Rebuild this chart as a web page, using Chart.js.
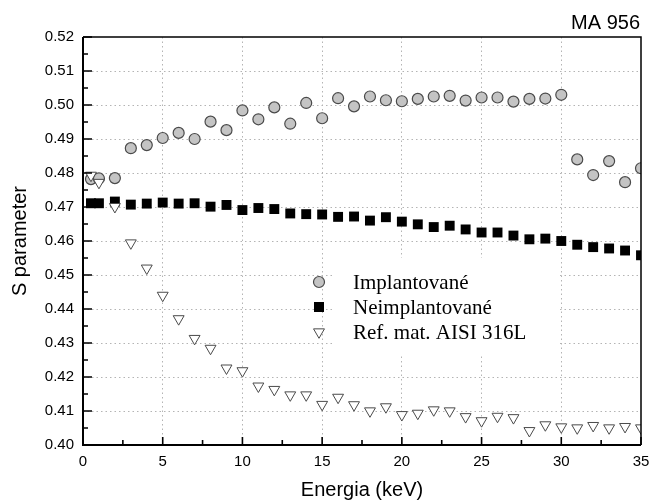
<!DOCTYPE html>
<html>
<head>
<meta charset="utf-8">
<script src="https://cdn.jsdelivr.net/npm/chart.js@4.4.1/dist/chart.umd.min.js"></script>
<style>
  html, body { margin: 0; padding: 0; background: #fff; }
  #wrap { width: 652px; height: 504px; }
</style>
</head>
<body>
<div id="wrap"><canvas id="c" width="652" height="504"></canvas></div>
<script>
// ---- data ----
const energy = [0.5,1,2,3,4,5,6,7,8,9,10,11,12,13,14,15,16,17,18,19,20,21,22,23,24,25,26,27,28,29,30,31,32,33,34,35];
const implantovane = [0.4782,0.4784,0.4785,0.4873,0.4882,0.4903,0.4918,0.4900,0.4951,0.4926,0.4984,0.4958,0.4993,0.4945,0.5006,0.4961,0.5020,0.4996,0.5025,0.5014,0.5011,0.5018,0.5025,0.5027,0.5013,0.5022,0.5022,0.5010,0.5018,0.5019,0.5030,0.4840,0.4794,0.4835,0.4773,0.4814];
const neimplantovane = [0.4711,0.4711,0.4716,0.4707,0.4710,0.4713,0.4710,0.4711,0.4701,0.4706,0.4691,0.4697,0.4694,0.4681,0.4679,0.4678,0.4671,0.4672,0.4660,0.4670,0.4657,0.4649,0.4641,0.4645,0.4634,0.4625,0.4625,0.4616,0.4605,0.4607,0.4600,0.4589,0.4582,0.4578,0.4572,0.4558];
const refMat = [0.4793,0.4772,0.4701,0.4594,0.4520,0.4440,0.4371,0.4313,0.4284,0.4226,0.4218,0.4173,0.4163,0.4147,0.4147,0.4119,0.4140,0.4118,0.4100,0.4112,0.4089,0.4093,0.4103,0.4100,0.4083,0.4071,0.4084,0.4080,0.4042,0.4059,0.4053,0.4050,0.4057,0.4050,0.4054,0.4050];
const seriesLabels = ['Implantované', 'Neimplantované', 'Ref. mat. AISI 316L'];
const xTitle = 'Energia (keV)';
const yTitle = 'S parameter';
const cornerLabel = 'MA 956';

const toPts = (ys) => energy.map((x, i) => ({x: x, y: ys[i]}));

const SANS = '"Liberation Sans", Arial, sans-serif';
const SERIF = '"Liberation Serif", "Times New Roman", serif';

function drawMarker(ctx, style, x, y) {
  ctx.save();
  if (style === 'circle') {
    ctx.beginPath(); ctx.arc(x, y, 5.5, 0, Math.PI * 2);
    ctx.fillStyle = '#c4c4c4'; ctx.fill();
    ctx.lineWidth = 1.2; ctx.strokeStyle = '#4a4a4a'; ctx.stroke();
  } else if (style === 'rect') {
    ctx.fillStyle = '#000'; ctx.fillRect(x - 5, y - 5, 10, 10);
  } else {
    const r = 6.3;
    ctx.beginPath();
    ctx.moveTo(x - r * 0.866, y - r / 2);
    ctx.lineTo(x + r * 0.866, y - r / 2);
    ctx.lineTo(x, y + r);
    ctx.closePath();
    ctx.fillStyle = '#fff'; ctx.fill();
    ctx.lineWidth = 1; ctx.strokeStyle = '#4a4a4a'; ctx.stroke();
  }
  ctx.restore();
}

const decor = {
  id: 'decor',
  beforeDatasetsDraw(chart) {
    const ctx = chart.ctx;
    ctx.save();
    ctx.fillStyle = '#fff';
    ctx.fillRect(333, 258, 227, 97);
    ctx.restore();
  },
  afterDatasetsDraw(chart) {
    const ctx = chart.ctx;
    const {left, right, top, bottom} = chart.chartArea;
    const xs = chart.scales.x, ys = chart.scales.y;
    ctx.save();
    // frame
    ctx.strokeStyle = '#000';
    ctx.lineWidth = 1.5;
    ctx.beginPath();
    ctx.moveTo(left, top); ctx.lineTo(right, top); ctx.lineTo(right, bottom);
    ctx.stroke();
    ctx.lineWidth = 2;
    ctx.beginPath();
    ctx.moveTo(left, top); ctx.lineTo(left, bottom); ctx.lineTo(right, bottom);
    ctx.stroke();
    // inside ticks
    ctx.lineWidth = 1.6;
    ctx.beginPath();
    const yt = ys.ticks.map(t => t.value);
    yt.forEach((v, i) => {
      const p = ys.getPixelForValue(v);
      ctx.moveTo(left, p); ctx.lineTo(left + 9, p);
      if (i < yt.length - 1) {
        const m = ys.getPixelForValue((v + yt[i + 1]) / 2);
        ctx.moveTo(left, m); ctx.lineTo(left + 5, m);
      }
    });
    const xt = xs.ticks.map(t => t.value);
    xt.forEach((v, i) => {
      const p = xs.getPixelForValue(v);
      ctx.moveTo(p, bottom); ctx.lineTo(p, bottom - 8);
      if (i < xt.length - 1) {
        const m = xs.getPixelForValue((v + xt[i + 1]) / 2);
        ctx.moveTo(m, bottom); ctx.lineTo(m, bottom - 5);
      }
    });
    ctx.stroke();
    // legend
    const styles = ['circle', 'rect', 'triangle'];
    const rows = [282, 307, 332];
    ctx.font = '21px ' + SERIF;
    ctx.fillStyle = '#000';
    ctx.textAlign = 'left';
    ctx.textBaseline = 'middle';
    seriesLabels.forEach((lab, i) => {
      drawMarker(ctx, styles[i], 319, rows[i]);
      ctx.fillText(lab, 353, rows[i] + 1);
    });
    // corner label
    ctx.font = '20px ' + SANS;
    ctx.textAlign = 'right';
    ctx.textBaseline = 'middle';
    ctx.fillText(cornerLabel, 640, 23);
    ctx.restore();
  }
};

const gridColor = (c) => (c.index === 0 || c.index === c.scale.ticks.length - 1) ? 'rgba(0,0,0,0)' : '#b4b4b4';

new Chart(document.getElementById('c'), {
  type: 'scatter',
  data: {
    datasets: [
      { label: seriesLabels[0], data: toPts(implantovane), order: 2,
        pointStyle: 'circle', pointRadius: 5.5, pointHoverRadius: 5.5,
        backgroundColor: '#c4c4c4', borderColor: '#4a4a4a', borderWidth: 1.2, clip: 0 },
      { label: seriesLabels[1], data: toPts(neimplantovane), order: 1,
        pointStyle: 'rect', pointRadius: 7, pointHoverRadius: 7,
        backgroundColor: '#000', borderColor: '#000', borderWidth: 0, clip: 0 },
      { label: seriesLabels[2], data: toPts(refMat), order: 0,
        pointStyle: 'triangle', rotation: 180, pointRadius: 6.3, pointHoverRadius: 6.3,
        backgroundColor: '#fff', borderColor: '#4a4a4a', borderWidth: 1, clip: 0 }
    ]
  },
  options: {
    responsive: false,
    animation: false,
    events: [],
    layout: { padding: { left: 0, top: 37, right: 11, bottom: 0 } },
    plugins: { legend: { display: false }, tooltip: { enabled: false } },
    scales: {
      x: {
        type: 'linear', min: 0, max: 35,
        afterFit: (s) => { s.height = 59; s.paddingLeft = 0; s.paddingRight = 0; },
        ticks: { stepSize: 5, padding: 8, color: '#000', font: { family: SANS, size: 15 },
                 callback: (v) => String(v) },
        grid: { color: gridColor, lineWidth: 1, drawTicks: false },
        border: { display: false, dash: [1.5, 3] },
        title: { display: true, text: xTitle, color: '#000', font: { family: SANS, size: 20 },
                 padding: { top: 0, bottom: 2 } }
      },
      y: {
        type: 'linear', min: 0.40, max: 0.52,
        afterFit: (s) => { s.width = 83; s.paddingTop = 0; s.paddingBottom = 0; },
        ticks: { stepSize: 0.01, padding: 9, color: '#000', font: { family: SANS, size: 15 },
                 callback: (v) => v.toFixed(2) },
        grid: { color: gridColor, lineWidth: 1, drawTicks: false },
        border: { display: false, dash: [1.5, 3] },
        title: { display: true, text: yTitle, color: '#000', font: { family: SANS, size: 20 },
                 padding: { top: 8, bottom: 0 } }
      }
    }
  },
  plugins: [decor]
});
</script>
</body>
</html>
